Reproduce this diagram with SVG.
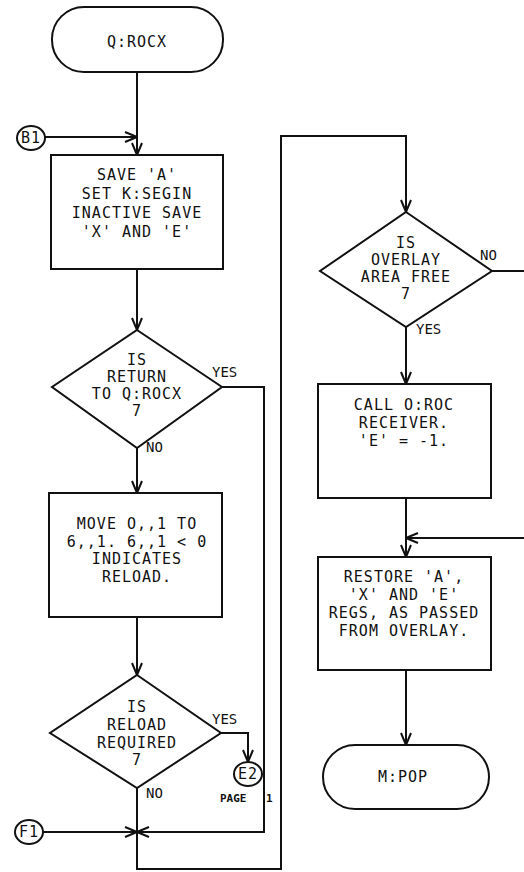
<svg xmlns="http://www.w3.org/2000/svg" width="524" height="872" viewBox="0 0 524 872">
<defs>
<marker id="ah" viewBox="0 0 14 12" refX="13" refY="6" markerWidth="14" markerHeight="12" markerUnits="userSpaceOnUse" orient="auto">
<path d="M1,1 L13,6 L1,11" fill="none" stroke="#111" stroke-width="2"/>
</marker>
</defs>
<style>
.s{fill:#fff;stroke:#111;stroke-width:2}
.c{fill:none;stroke:#111;stroke-width:2}
text{font-family:"DejaVu Sans Mono","Liberation Mono",monospace;font-size:15px;letter-spacing:1px;fill:#111;text-anchor:middle}
.l{font-size:14px;letter-spacing:0;text-anchor:start}
.p{font-size:11px;font-weight:bold;letter-spacing:0;text-anchor:start}
</style>
<rect width="524" height="872" fill="#fff"/>
<g id="connectors">
<path class="c" d="M137,72 V155" marker-end="url(#ah)"/>
<path class="c" d="M45,137 H137" marker-end="url(#ah)"/>
<path class="c" d="M137,269 V330" marker-end="url(#ah)"/>
<path class="c" d="M222,387 H264 V832 H137" marker-end="url(#ah)"/>
<path class="c" d="M137,448 V493" marker-end="url(#ah)"/>
<path class="c" d="M137,617 V675" marker-end="url(#ah)"/>
<path class="c" d="M221,733 H248 V762" marker-end="url(#ah)"/>
<path class="c" d="M137,788 V869 H281 V136 H406 V212" marker-end="url(#ah)"/>
<path class="c" d="M43,832 H137" marker-end="url(#ah)"/>
<path class="c" d="M492,271 H524"/>
<path class="c" d="M406,327 V384" marker-end="url(#ah)"/>
<path class="c" d="M406,498 V557" marker-end="url(#ah)"/>
<path class="c" d="M524,538 H406" marker-end="url(#ah)"/>
<path class="c" d="M406,670 V745" marker-end="url(#ah)"/>
<text class="l" x="212" y="377">YES</text>
<text class="l" x="146" y="452">NO</text>
<text class="l" x="212" y="724">YES</text>
<text class="l" x="146" y="798">NO</text>
<text class="l" x="480" y="260">NO</text>
<text class="l" x="416" y="334">YES</text>
</g>
<g id="start">
<rect class="s" x="52" y="7" width="171" height="65" rx="32" ry="32"/>
<text x="137" y="47">Q:ROCX</text>
</g>
<g id="b1">
<ellipse class="s" cx="31" cy="138" rx="14" ry="12"/>
<text x="31" y="143" letter-spacing="0">B1</text>
</g>
<g id="box1">
<rect class="s" x="51" y="155" width="172" height="114"/>
<text x="137" y="180">SAVE 'A'</text>
<text x="137" y="199">SET K:SEGIN</text>
<text x="137" y="218">INACTIVE SAVE</text>
<text x="137" y="237">'X' AND 'E'</text>
</g>
<g id="dec1">
<polygon class="s" points="137,330 222,387 137,448 52,387"/>
<text x="137" y="365">IS</text>
<text x="137" y="382">RETURN</text>
<text x="137" y="399">TO Q:ROCX</text>
<text x="137" y="416">7</text>
</g>
<g id="box2">
<rect class="s" x="49" y="493" width="173" height="124"/>
<text x="137" y="529">MOVE O,,1 TO</text>
<text x="137" y="547">6,,1. 6,,1 &lt; 0</text>
<text x="137" y="564">INDICATES</text>
<text x="137" y="582">RELOAD.</text>
</g>
<g id="dec2">
<polygon class="s" points="137,675 221,733 137,788 50,733"/>
<text x="137" y="712">IS</text>
<text x="137" y="730">RELOAD</text>
<text x="137" y="748">REQUIRED</text>
<text x="137" y="765">7</text>
</g>
<g id="e2">
<ellipse class="s" cx="248" cy="774" rx="14" ry="12"/>
<text x="248" y="779" letter-spacing="0">E2</text>
<text class="p" x="220" y="802">PAGE</text>
<text class="p" x="266" y="802">1</text>
</g>
<g id="f1">
<ellipse class="s" cx="29" cy="832" rx="14" ry="12"/>
<text x="29" y="837" letter-spacing="0">F1</text>
</g>
<g id="dec3">
<polygon class="s" points="406,212 492,271 406,327 320,271"/>
<text x="406" y="248">IS</text>
<text x="406" y="265">OVERLAY</text>
<text x="406" y="282">AREA FREE</text>
<text x="406" y="299">7</text>
</g>
<g id="box3">
<rect class="s" x="318" y="384" width="173" height="114"/>
<text x="404" y="410">CALL O:ROC</text>
<text x="404" y="428">RECEIVER.</text>
<text x="404" y="446">'E' = -1.</text>
</g>
<g id="box4">
<rect class="s" x="318" y="557" width="173" height="113"/>
<text x="404" y="582">RESTORE 'A',</text>
<text x="404" y="600">'X' AND 'E'</text>
<text x="404" y="618">REGS, AS PASSED</text>
<text x="404" y="636">FROM OVERLAY.</text>
</g>
<g id="end">
<rect class="s" x="323" y="745" width="166" height="64" rx="32" ry="32"/>
<text x="403" y="782">M:POP</text>
</g>
</svg>
